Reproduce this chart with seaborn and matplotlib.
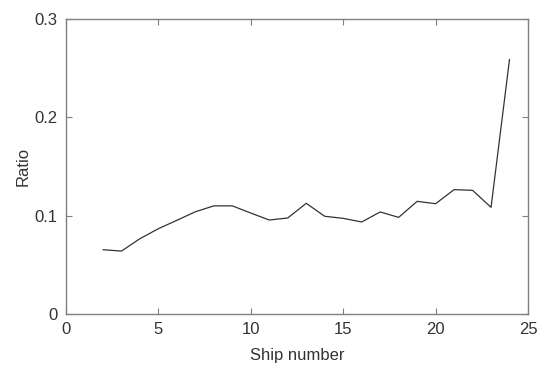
import matplotlib
matplotlib.use("Agg")
import matplotlib.pyplot as plt
import seaborn as sns
import pandas as pd

ship_number = [2, 3, 4, 5, 6, 7, 8, 9, 10, 11, 12, 13, 14, 15, 16, 17, 18, 19, 20, 21, 22, 23, 24]
ratio = [0.0654, 0.0640, 0.0766, 0.0868, 0.0953, 0.1040, 0.1100, 0.1100, 0.1027, 0.0956,
         0.0977, 0.1126, 0.0994, 0.0973, 0.0936, 0.1038, 0.0983, 0.1146, 0.1122, 0.1265,
         0.1258, 0.1085, 0.2590]
x_ticks = [0, 5, 10, 15, 20, 25]
y_ticks = [0, 0.1, 0.2, 0.3]

sns.set_theme(style="ticks")
plt.rcParams['font.family'] = ['Liberation Sans', 'DejaVu Sans']

df = pd.DataFrame({"Ship number": ship_number, "Ratio": ratio})

fig = plt.figure(figsize=(5.5, 3.67), dpi=100)
ax = fig.add_axes([0.12, 0.1444, 0.84, 0.8036])
sns.lineplot(data=df, x="Ship number", y="Ratio", ax=ax, color="#333333", linewidth=0.9)

ax.set_xlim(0, 25)
ax.set_ylim(0, 0.3)
ax.set_xticks(x_ticks)
ax.set_yticks(y_ticks)
ax.set_xticklabels([str(t) for t in x_ticks])
ax.set_yticklabels(["0", "0.1", "0.2", "0.3"])
for s in ax.spines.values():
    s.set_visible(True)
    s.set_color("#808080")
    s.set_linewidth(1.0)
ax.tick_params(direction="in", length=4, width=0.8, color="#808080",
               top=True, right=True, labelsize=12, labelcolor="#333333")
ax.tick_params(axis="x", pad=6)
ax.tick_params(axis="y", pad=6)
ax.set_xlabel("Ship number", fontsize=12, color="#333333", labelpad=8)
ax.set_ylabel("Ratio", fontsize=12, color="#333333", labelpad=3)

fig.savefig("out.png", dpi=100)
